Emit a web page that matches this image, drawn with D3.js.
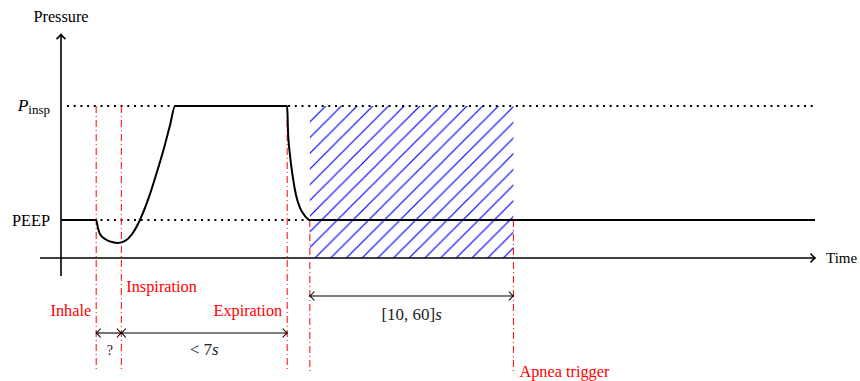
<!DOCTYPE html>
<html><head><meta charset="utf-8">
<script src="https://cdn.jsdelivr.net/npm/d3@7"></script>
<style>body{margin:0;background:#fff}svg{display:block}text{font-family:"Liberation Serif","DejaVu Serif",serif}</style>
</head><body><svg id="c" width="860" height="381"></svg>
<script>
// ---- data ----
const curveTime = [0, 1.4, 1.47, 1.55, 1.75, 2.03, 2.27, 2.55, 2.83, 3.14, 3.46, 3.78, 4.1, 4.34, 4.54, 9.0, 9.03, 9.11, 9.23, 9.35, 9.51, 9.71, 9.9, 30];
const curvePressure = [0.25, 0.25, 0.197, 0.158, 0.125, 0.105, 0.099, 0.112, 0.158, 0.25, 0.382, 0.546, 0.724, 0.875, 1.0, 1.0, 0.842, 0.678, 0.526, 0.414, 0.329, 0.276, 0.25, 0.25];
const levelNames = ["PEEP", "Pinsp"];
const levelValues = [0.25, 1.0];
const eventNames = ["Inhale", "Inspiration", "Expiration", "Apnea start", "Apnea trigger"];
const eventTimes = [1.4, 2.4, 9.0, 9.9, 18.0];
const spanLabels = [["?", ""], ["< 7", "s"], ["[10, 60]", "s"]];

// ---- scales ----
const svg = d3.select("#c");
const x = d3.scaleLinear().domain([0, 30]).range([61, 815]);
const y = d3.scaleLinear().domain([0, 1]).range([258, 106]);
const PEEP = levelValues[0], PINSP = levelValues[1];

const defs = svg.append("defs");
function mk(id, w) {
  defs.append("marker").attr("id", id).attr("viewBox", "-6 -6 12 12")
    .attr("refX", 0).attr("refY", 0).attr("markerWidth", 12).attr("markerHeight", 12)
    .attr("markerUnits", "userSpaceOnUse").attr("orient", "auto-start-reverse")
    .append("path").attr("d", "M-4.5,-4.5 Q-1.5,-1 0,0 Q-1.5,1 -4.5,4.5")
    .attr("fill", "none").attr("stroke", "#000").attr("stroke-width", w);
}
mk("arrBig", 1.6);
mk("arrSmall", 1.1);

// hatch pattern
const pat = defs.append("pattern").attr("id", "hatch").attr("patternUnits", "userSpaceOnUse")
  .attr("width", 15.7).attr("height", 15.7).attr("x", 310).attr("y", 106);
pat.append("path").attr("d", "M0,15.7 L15.7,0 M-4,4 L4,-4 M11.7,19.7 L19.7,11.7")
  .attr("stroke", "#0000ff").attr("stroke-width", 1.2);

// hatched apnea window
svg.append("rect").attr("x", x(eventTimes[3])).attr("y", y(PINSP))
  .attr("width", x(eventTimes[4]) - x(eventTimes[3])).attr("height", y(0) - y(PINSP))
  .attr("fill", "url(#hatch)");

// dotted level lines
svg.selectAll("line.lvl").data(levelValues).enter().append("line")
  .attr("x1", x(0) + 6).attr("x2", x(30)).attr("y1", d => y(d)).attr("y2", d => y(d))
  .attr("stroke", "#000").attr("stroke-width", 2).attr("stroke-dasharray", "2,4.7");

// red event lines
const evTop = [PINSP, PINSP, PINSP, PEEP, PEEP];
svg.selectAll("line.ev").data(eventTimes).enter().append("line")
  .attr("x1", d => x(d)).attr("x2", d => x(d))
  .attr("y1", (d, i) => y(evTop[i])).attr("y2", 372)
  .attr("stroke", "#ff0000").attr("stroke-width", 1).attr("stroke-dasharray", "7,3,1,3");

// axes
svg.append("line").attr("x1", 40).attr("x2", x(30)).attr("y1", y(0)).attr("y2", y(0))
  .attr("stroke", "#000").attr("stroke-width", 1.6).attr("marker-end", "url(#arrBig)");
svg.append("line").attr("x1", x(0)).attr("x2", x(0)).attr("y1", 276).attr("y2", y(1.47))
  .attr("stroke", "#000").attr("stroke-width", 1.6).attr("marker-end", "url(#arrBig)");

// pressure curve
const pts = curveTime.map((t, i) => [t, curvePressure[i]]);
svg.append("path").datum(pts)
  .attr("d", d3.line().x(d => x(d[0])).y(d => y(d[1])).curve(d3.curveMonotoneX))
  .attr("fill", "none").attr("stroke", "#000").attr("stroke-width", 2);

// axis labels
const FS = 16.3;
svg.append("text").attr("x", x(0)).attr("y", 22).attr("text-anchor", "middle")
  .attr("font-size", FS).text("Pressure");
svg.append("text").attr("x", 826).attr("y", y(0) + 5).attr("font-size", 15).text("Time");
svg.append("text").attr("x", 50).attr("y", y(PEEP) + 6).attr("text-anchor", "end")
  .attr("font-size", FS).text(levelNames[0]);
const pt = svg.append("text").attr("x", 50).attr("y", y(PINSP) + 5).attr("text-anchor", "end").attr("font-size", 17.5);
pt.append("tspan").attr("font-style", "italic").text("P");
pt.append("tspan").attr("font-size", 13).attr("dy", 3).text("insp");

// red event labels
const evLab = [
  {i: 0, dx: -5, y: 316, a: "end"},
  {i: 1, dx: 5, y: 292, a: "start"},
  {i: 2, dx: -5, y: 316, a: "end"},
  {i: 4, dx: 6, y: 377, a: "start"}
];
svg.selectAll("text.ev").data(evLab).enter().append("text")
  .attr("x", d => x(eventTimes[d.i]) + d.dx).attr("y", d => d.y).attr("text-anchor", d => d.a)
  .attr("fill", "#ff0000").attr("font-size", FS).text(d => eventNames[d.i]);

// dimension arrows
const spans = [
  {a: 0, b: 1, yy: 333, ty: 355, fs: 14},
  {a: 1, b: 2, yy: 333, ty: 355, fs: 17},
  {a: 3, b: 4, yy: 296, ty: 320, fs: 17}
];
svg.selectAll("line.sp").data(spans).enter().append("line")
  .attr("x1", d => x(eventTimes[d.a])).attr("x2", d => x(eventTimes[d.b]))
  .attr("y1", d => d.yy).attr("y2", d => d.yy)
  .attr("stroke", "#000").attr("stroke-width", 1.1)
  .attr("marker-start", "url(#arrSmall)").attr("marker-end", "url(#arrSmall)");
const st = svg.selectAll("text.sp").data(spans).enter().append("text")
  .attr("x", d => (x(eventTimes[d.a]) + x(eventTimes[d.b])) / 2 + (d.a === 0 ? 1 : 0))
  .attr("y", d => d.ty).attr("text-anchor", "middle").attr("font-size", d => d.fs)
  .attr("fill", "#222");
st.append("tspan").text((d, i) => spanLabels[i][0]);
st.append("tspan").attr("font-style", "italic").text((d, i) => spanLabels[i][1]);
</script></body></html>
